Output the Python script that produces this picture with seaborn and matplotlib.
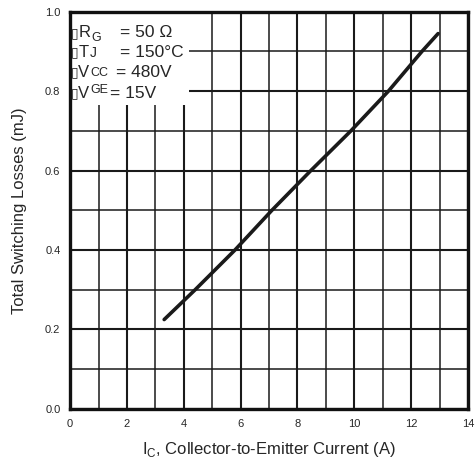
import seaborn as sns
import matplotlib.pyplot as plt
import pandas as pd
from matplotlib.patches import Rectangle
from matplotlib.ticker import MultipleLocator

# Values
ic_amps = [3.31, 4.4, 5.8, 7.1, 8.47, 9.88, 11.2, 12.38, 12.95]
total_loss_mj = [0.225, 0.30, 0.40, 0.50, 0.60, 0.70, 0.80, 0.90, 0.945]

x_ticks = [0, 2, 4, 6, 8, 10, 12, 14]
y_ticks = [0.0, 0.2, 0.4, 0.6, 0.8, 1.0]

cond_main = ["R", "T", "V", "V"]
cond_sub = ["G", "J", "CC", "GE"]
cond_values = ["= 50 \u03a9", "= 150\u00b0C", "= 480V", "= 15V"]

df = pd.DataFrame({"Ic": ic_amps, "Loss": total_loss_mj})

sns.set_style("white")
plt.rcParams["font.family"] = ["Liberation Sans", "DejaVu Sans"]
plt.rcParams["mathtext.fontset"] = "custom"
plt.rcParams["mathtext.rm"] = "Liberation Sans"

fig = plt.figure(figsize=(4.77, 4.70), dpi=100)
ax = fig.add_axes([0.147, 0.130, 0.834, 0.845])

sns.lineplot(data=df, x="Ic", y="Loss", color="#1a1a1a", linewidth=2.6, ax=ax, zorder=3)

ax.set_xlim(0, 14)
ax.set_ylim(0, 1.0)
ax.set_xticks(x_ticks)
ax.set_yticks(y_ticks)
ax.set_xticklabels([str(t) for t in x_ticks], fontsize=8)
ax.set_yticklabels([f"{t:.1f}" for t in y_ticks], fontsize=8)
ax.xaxis.set_minor_locator(MultipleLocator(1))
ax.yaxis.set_minor_locator(MultipleLocator(0.1))
ax.tick_params(which="both", length=0, pad=7)
ax.set_axisbelow(True)
ax.grid(which="major", color="#1a1a1a", linewidth=1.5)
ax.grid(which="minor", color="#1a1a1a", linewidth=1.1)
for sp in ax.spines.values():
    sp.set_color("#111111")
    sp.set_linewidth(2.4)

# White patch behind the conditions text
ax.add_patch(Rectangle((0, 0.765), 4.2, 0.235, facecolor="white",
                       edgecolor="none", zorder=1.5))

row_y = [0.947, 0.897, 0.847, 0.794]
main_x = [0.29, 0.29, 0.29, 0.29]
sub_x = [0.74, 0.70, 0.72, 0.70]
sub_dy = [-0.012, 0.0, 0.0, 0.008]
sub_fs = [9, 10, 9, 9]
eq_x = [1.76, 1.76, 1.62, 1.42]
for i in range(4):
    ry = row_y[i]
    ax.text(0.03, ry, "\u25af", fontsize=10, family="DejaVu Sans",
            va="center", ha="left", zorder=4)
    ax.text(main_x[i], ry, cond_main[i], fontsize=12, va="center", ha="left", zorder=4)
    ax.text(sub_x[i], ry + sub_dy[i], cond_sub[i], fontsize=sub_fs[i],
            va="center", ha="left", zorder=4)
    ax.text(eq_x[i], ry, cond_values[i], fontsize=12.5, va="center", ha="left", zorder=4)

ax.set_xlabel(r"I$_{\rm C}$, Collector-to-Emitter Current (A)", fontsize=12, labelpad=8)
ax.set_ylabel("Total Switching Losses (mJ)", fontsize=12, labelpad=13)

plt.savefig("out.png", dpi=100)
plt.close()
